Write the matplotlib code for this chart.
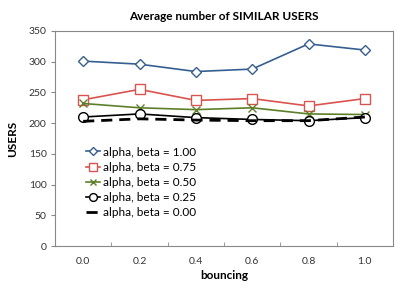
import matplotlib
matplotlib.use("Agg")
import matplotlib.pyplot as plt

categories = ["0.0", "0.2", "0.4", "0.6", "0.8", "1.0"]
series_labels = ["alpha, beta = 1.00", "alpha, beta = 0.75", "alpha, beta = 0.50",
                 "alpha, beta = 0.25", "alpha, beta = 0.00"]
beta_100 = [301, 296, 284, 288, 329, 319]
beta_075 = [238, 255, 237, 240, 228, 240]
beta_050 = [232, 225, 222, 225, 215, 214]
beta_025 = [210, 215, 209, 206, 204, 209]
beta_000 = [203, 207, 205, 204, 204, 210]
y_ticks = [0, 50, 100, 150, 200, 250, 300, 350]

plt.rcParams['font.family'] = ['Lato', 'DejaVu Sans']

fig = plt.figure(figsize=(4.15, 2.94), dpi=100)
ax = fig.add_axes([55/415, 48/294, (393-55)/415, (246-31)/294])

x = list(range(len(categories)))
styles = [
    dict(color="#365F91", marker="D", ms=5, mfc="white", mew=1.0, lw=1.2),
    dict(color="#D9534F", marker="s", ms=7, mfc="white", mew=1.0, lw=1.2),
    dict(color="#5E7F2A", marker="x", ms=6, mew=1.0, lw=1.2),
    dict(color="#000000", marker="o", ms=7, mfc="white", mew=1.0, lw=1.2),
    dict(color="#000000", ls=(0, (4, 2.5)), lw=2.0),
]
for vals, lab, st in zip([beta_100, beta_075, beta_050, beta_025, beta_000], series_labels, styles):
    ax.plot(x, vals, label=lab, **st)

ax.set_xlim(-0.5, len(categories) - 0.5)
ax.set_ylim(0, 350)
ax.set_yticks(y_ticks)
ax.set_xticks(x)
ax.set_xticklabels(categories)
ax.set_xticks([i - 0.5 for i in range(len(categories) + 1)], minor=True)
ax.tick_params(axis='x', which='major', length=0, labelsize=7.5, pad=8, colors="#333333")
ax.tick_params(axis='x', which='minor', length=3, direction='in', color="#888888")
ax.tick_params(axis='y', labelsize=7.5, length=3, color="#888888", labelcolor="#333333", pad=3)
for s in ax.spines.values():
    s.set_color("#888888")
    s.set_linewidth(0.8)

ax.set_title("Average number of SIMILAR USERS", fontsize=8.5, fontweight="bold", pad=8)
ax.set_xlabel("bouncing", fontsize=8.5, fontweight="bold", labelpad=3)
ax.set_ylabel("USERS", fontsize=8.5, fontweight="bold", labelpad=8)

leg = ax.legend(loc="upper left", bbox_to_anchor=(0.075, 0.49), frameon=False, fontsize=8.5,
                handlelength=1.2, handletextpad=0.25, labelspacing=0.35, borderpad=0,
                markerscale=0.8)

fig.savefig("out.png", dpi=100)
